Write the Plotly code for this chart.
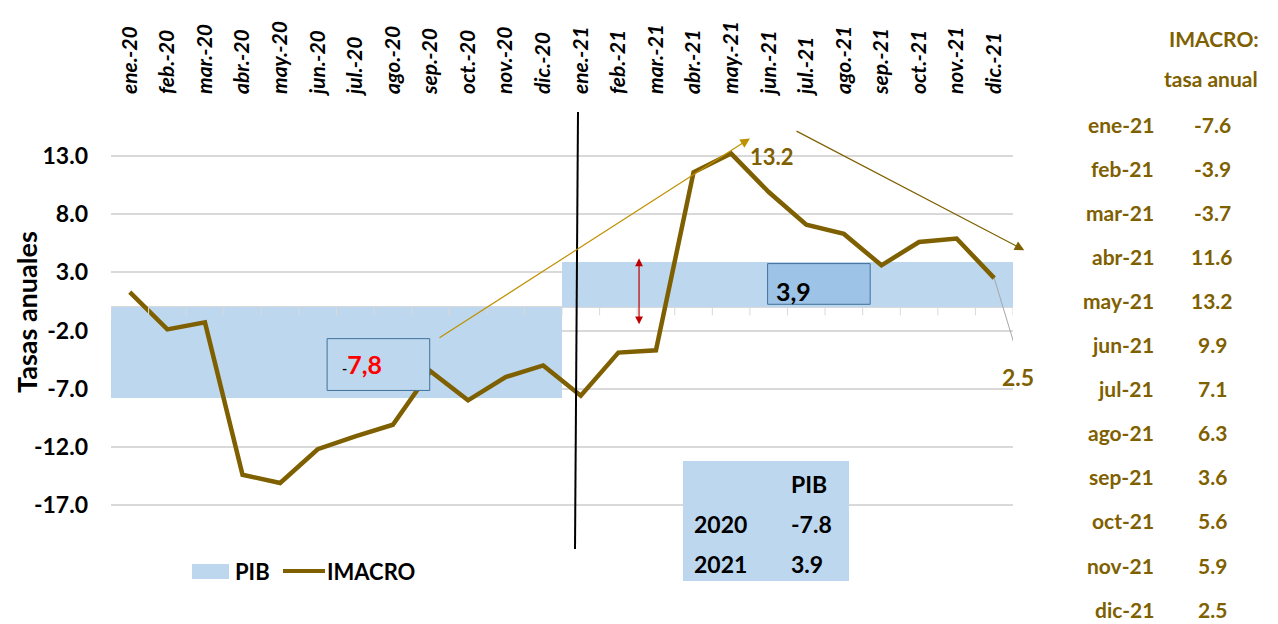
import plotly.graph_objects as go

# datos
meses = ['ene.-20', 'feb.-20', 'mar.-20', 'abr.-20', 'may.-20', 'jun.-20',
         'jul.-20', 'ago.-20', 'sep.-20', 'oct.-20', 'nov.-20', 'dic.-20',
         'ene.-21', 'feb.-21', 'mar.-21', 'abr.-21', 'may.-21', 'jun.-21',
         'jul.-21', 'ago.-21', 'sep.-21', 'oct.-21', 'nov.-21', 'dic.-21']
imacro_2020 = [1.3, -1.9, -1.3, -14.4, -15.1, -12.2, -11.1, -10.1, -5.5, -8.0, -6.0, -5.0]
imacro_2021 = [-7.6, -3.9, -3.7, 11.6, 13.2, 9.9, 7.1, 6.3, 3.6, 5.6, 5.9, 2.5]
pib_anios = ['2020', '2021']
pib_valores = [-7.8, 3.9]
tabla_meses = ['ene-21', 'feb-21', 'mar-21', 'abr-21', 'may-21', 'jun-21',
               'jul-21', 'ago-21', 'sep-21', 'oct-21', 'nov-21', 'dic-21']
y_ticks = [-17, -12, -7, -2, 3, 8, 13]

imacro = imacro_2020 + imacro_2021
pib_mensual = [pib_valores[0]] * 12 + [pib_valores[1]] * 12

OLIVA = '#7f6000'
DORADO = '#bf9000'
AZUL = '#bdd7ee'
FUENTE = 'Lato'

# la pagina tiene 8px de margen en el body
OFF = 8
W, H = 1278 - OFF, 624 - OFF
# area del grafico en pixeles de la pagina
L, R, T, B = 111, 1013, 121, 540
def px(xp):
    return (xp - L) / (R - L)
def py(yp):
    return (B - yp) / (B - T)

fig = go.Figure()
fig.add_trace(go.Bar(x=meses, y=pib_mensual, name='PIB', marker_color=AZUL,
                     marker_line_width=0, hoverinfo='skip'))
fig.add_trace(go.Scatter(x=meses, y=imacro, name='IMACRO', mode='lines',
                         line=dict(color=OLIVA, width=4.5)))

shapes = []
# marcas del eje en cero
for i in range(len(meses) + 1):
    shapes.append(dict(type='line', xref='x', yref='y', x0=i - 0.5, x1=i - 0.5,
                       y0=0, y1=-0.7, line=dict(color='#d9d9d9', width=1)))
# linea vertical negra
shapes.append(dict(type='line', xref='paper', yref='paper', x0=px(578), x1=px(575),
                   y0=py(112), y1=py(549), line=dict(color='black', width=2)))
# cajas -7,8 y 3,9
shapes.append(dict(type='rect', xref='x', yref='y', x0=5.25, x1=7.98, y0=-7.15, y1=-2.7,
                   fillcolor=AZUL, line=dict(color='#41719c', width=1)))
shapes.append(dict(type='rect', xref='x', yref='y', x0=16.97, x1=19.7, y0=0.25, y1=3.75,
                   fillcolor='#9dc3e6', line=dict(color='#41719c', width=1)))
# cuadro PIB
shapes.append(dict(type='rect', xref='paper', yref='paper', x0=px(683), x1=px(849),
                   y0=py(581), y1=py(461), fillcolor=AZUL, line=dict(width=0)))
# linea guia 2.5
shapes.append(dict(type='line', xref='x', yref='y', x0=23, x1=23.6, y0=imacro[-1], y1=-3.9,
                   line=dict(color='#a6a6a6', width=1)))
# leyenda manual
shapes.append(dict(type='rect', xref='paper', yref='paper', x0=px(192), x1=px(229),
                   y0=py(579), y1=py(564), fillcolor=AZUL, line=dict(width=0)))
shapes.append(dict(type='line', xref='paper', yref='paper', x0=px(283), x1=px(325),
                   y0=py(571), y1=py(571), line=dict(color=OLIVA, width=4)))

ann = []
# flechas
ann.append(dict(x=16.5, y=14.5, ax=8.2, ay=-2.7, xref='x', yref='y', axref='x', ayref='y',
                showarrow=True, arrowhead=2, arrowsize=1.6, arrowwidth=1.2, arrowcolor=DORADO, text=''))
ann.append(dict(x=23.8, y=4.9, ax=17.7, ay=15.2, xref='x', yref='y', axref='x', ayref='y',
                showarrow=True, arrowhead=2, arrowsize=1.6, arrowwidth=1.2, arrowcolor=OLIVA, text=''))
ann.append(dict(x=13.55, y=pib_valores[1] + 0.3, ax=13.55, ay=-1.6, xref='x', yref='y',
                axref='x', ayref='y', showarrow=True, arrowhead=2, arrowside='end+start',
                arrowsize=1.3, arrowwidth=1.2, arrowcolor='#c00000', text=''))

def texto(x, y, t, size, color, xanchor='center', xref='paper', yref='paper', angle=0):
    ann.append(dict(x=x, y=y, xref=xref, yref=yref, text=t, showarrow=False,
                    xanchor=xanchor, yanchor='middle', textangle=angle,
                    font=dict(family=FUENTE, size=size, color=color, weight='bold')))

# etiquetas de datos
texto(px(772), py(156), f'{imacro[16]:.1f}', 22, OLIVA)
texto(px(1018), py(377), f'{imacro[23]:.1f}', 23, OLIVA)
texto(px(340), py(364), "<span style='font-size:14px;color:black'>-</span>"
      + str(abs(pib_valores[0])).replace('.', ','), 25, '#ff0000', xanchor='left')
texto(px(774), py(291), str(pib_valores[1]).replace('.', ','), 25, 'black', xanchor='left')
# titulo eje y
texto(px(26), py(312), 'Tasas anuales', 27, 'black', angle=-90)
# cuadro PIB
texto(px(809), py(484), 'PIB', 23, 'black')
for k, (a, v) in enumerate(zip(pib_anios, pib_valores)):
    yy = py(524 + 40 * k)
    texto(px(692), yy, a, 23, 'black', xanchor='left')
    texto(px(789), yy, f'{v:.1f}', 23, 'black', xanchor='left')
# leyenda
texto(px(233), py(571), 'PIB', 22, 'black', xanchor='left')
texto(px(325), py(571), 'IMACRO', 22, 'black', xanchor='left')
# tabla derecha
texto(px(1214), py(38), 'IMACRO:', 21, OLIVA)
texto(px(1211), py(79), 'tasa anual', 21, OLIVA)
for k, (m, v) in enumerate(zip(tabla_meses, imacro_2021)):
    yy = py(124 + 44.1 * k)
    texto(px(1156), yy, m, 21, OLIVA, xanchor='right')
    texto(px(1212), yy, f'{v:.1f}', 21, OLIVA)

fig.update_layout(
    width=W, height=H,
    margin=dict(l=L - OFF, r=W - (R - OFF), t=T - OFF, b=H - (B - OFF), autoexpand=False),
    paper_bgcolor='white', plot_bgcolor='white',
    barmode='overlay', bargap=0,
    showlegend=False,
    shapes=shapes, annotations=ann,
    xaxis=dict(type='category', side='top', tickangle=-90, showgrid=False, showline=False,
               ticks='', ticklabelstandoff=26, range=[-0.5, 23.5], automargin=False,
               tickfont=dict(family=FUENTE, size=21, color='black', weight='bold', style='italic')),
    yaxis=dict(range=[-20, 16], tickvals=y_ticks, ticktext=[f'{v:.1f}' for v in y_ticks],
               showgrid=True, gridcolor='#d9d9d9', gridwidth=1.5, zeroline=True,
               zerolinecolor='#d9d9d9', zerolinewidth=1.5, showline=False, ticks='',
               ticklabelstandoff=22, automargin=False,
               tickfont=dict(family=FUENTE, size=23, color='black', weight='bold')),
)

fig.write_html('out.html')
